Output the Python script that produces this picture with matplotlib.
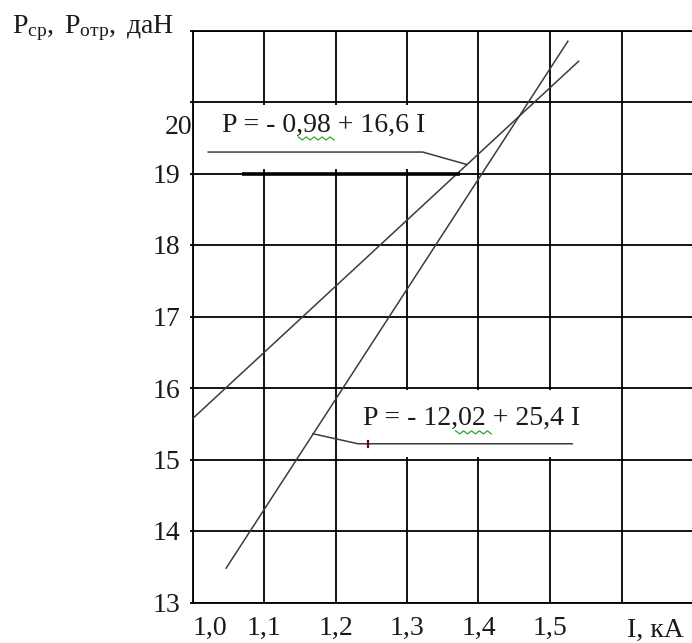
import numpy as np
import matplotlib
matplotlib.use("Agg")
import matplotlib.pyplot as plt
from matplotlib.patches import Rectangle

plt.rcParams['font.family'] = ['Liberation Serif', 'DejaVu Serif']
plt.rcParams['mathtext.fontset'] = 'custom'
plt.rcParams['mathtext.rm'] = 'Liberation Serif'
plt.rcParams['mathtext.it'] = 'Liberation Serif:italic'

# axis ticks
x_ticks = [1.0, 1.1, 1.2, 1.3, 1.4, 1.5, 1.6, 1.7]
x_labels = ['1,0', '1,1', '1,2', '1,3', '1,4', '1,5', '', '']
y_ticks = [13, 14, 15, 16, 17, 18, 19, 20, 21]
y_labels = ['13', '14', '15', '16', '17', '18', '19', '20', '']

# P(I) lines: P_ср (shallow) and P_отр (steep)
i_avg = [1.0, 1.54]
p_avg = [15.57, 20.57]
i_sep = [1.047, 1.525]
p_sep = [13.48, 20.85]

eq_avg = "P = - 0,98 + 16,6 I"
eq_sep = "P = - 12,02 + 25,4 I"

TXT = '#1a1a1a'
LINE = '#3c3c3c'
FS = 20

fig = plt.figure(figsize=(6.92, 6.43), dpi=100)
ax = fig.add_axes([192.5 / 692, (643 - 602.5) / 643, 500.5 / 692, 572 / 643])
ax.set_xlim(1.0, 1.7)
ax.set_ylim(13, 21)

for s in ax.spines.values():
    s.set_linewidth(1.3)
    s.set_color('black')

ax.set_xticks(x_ticks, x_labels)
ax.set_yticks(y_ticks, y_labels)
ax.tick_params(axis='x', length=0, pad=10, labelsize=FS, labelcolor=TXT)
ax.tick_params(axis='y', length=2.5, width=1.3, direction='out', pad=6,
               labelsize=FS, labelcolor=TXT)
ax.get_xticklabels()[0].set_ha('left')
ax.grid(True, color='black', linewidth=1.3)

# "20" sits tight against the axis, a bit below its grid line
ylbls = ax.get_yticklabels()
idx20 = y_labels.index('20')
ylbls[idx20].set_visible(False)
ax.text(1.0, 19.64, y_labels[idx20], ha='right', va='center',
        fontsize=FS, color=TXT)

# white boxes behind the equations hide the grid
ax.add_patch(Rectangle((1.003, 19.06), 0.372, 0.9, fc='white', ec='none', zorder=2))
ax.add_patch(Rectangle((1.215, 15.03), 0.36, 0.94, fc='white', ec='none', zorder=2))

ax.plot(i_avg, p_avg, color=LINE, lw=1.1, zorder=3)
ax.plot(i_sep, p_sep, color=LINE, lw=1.1, zorder=3)

# heavy underline at 19
ax.plot([1.069, 1.374], [19, 19], color='black', lw=2.6, zorder=3,
        solid_capstyle='butt')

# equation labels with leader lines
ax.text(1.041, 19.67, eq_avg, ha='left', va='center', fontsize=20, color=TXT, zorder=4)
ax.plot([1.022, 1.322, 1.384], [19.30, 19.30, 19.125], color=LINE, lw=1.1, zorder=3)

ax.text(1.2385, 15.57, eq_sep, ha='left', va='center', fontsize=20, color=TXT, zorder=4)
ax.plot([1.1685, 1.2315, 1.531], [15.36, 15.22, 15.22], color=LINE, lw=1.1, zorder=3)
ax.plot([1.2455, 1.2455], [15.17, 15.26], color='#5a1010', lw=1.6, zorder=4)

# spell-check squiggles under "98" and "02"
def squiggle(x0, x1, y, n=10, amp=0.022):
    xs = np.linspace(x0, x1, n)
    ys = y + amp * (-1.0) ** np.arange(n)
    ax.plot(xs, ys, color='#2eaa2e', lw=0.9, zorder=4)

squiggle(1.148, 1.198, 19.49)
squiggle(1.368, 1.418, 15.38)

fig.text(12 / 692, 1 - 33 / 643, r'$\mathrm{P_{ср}},\ \mathrm{P_{отр}},\ $даН',
         va='baseline', ha='left', fontsize=FS, color=TXT)
fig.text(627 / 692, 1 - 637 / 643, 'I, кА', va='baseline', ha='left',
         fontsize=FS, color=TXT)

fig.savefig('out.png', dpi=100)
